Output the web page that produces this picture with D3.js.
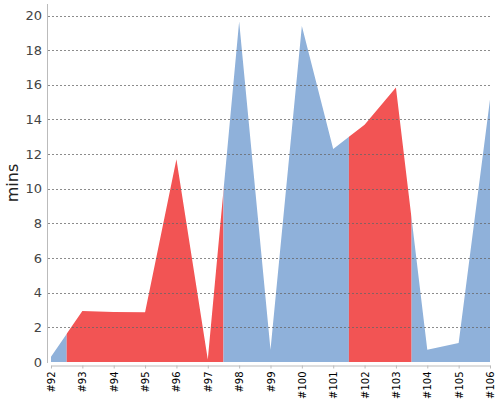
<!DOCTYPE html>
<html>
<head>
<meta charset="utf-8">
<script src="https://cdn.jsdelivr.net/npm/d3@7"></script>
<style>
  body { margin: 0; background: #fff; }
  svg { display: block; }
</style>
</head>
<body>
<svg width="500" height="400"></svg>
<script>
const builds = ["#92", "#93", "#94", "#95", "#96", "#97", "#98", "#99", "#100", "#101", "#102", "#103", "#104", "#105", "#106"];
const mins = [0.3, 2.95, 2.88, 2.87, 11.7, 0.15, 19.65, 0.7, 19.4, 12.3, 13.7, 15.85, 0.7, 1.1, 15.15];
const status = ["ok", "fail", "fail", "fail", "fail", "fail", "ok", "ok", "ok", "ok", "fail", "fail", "ok", "ok", "ok"];
const yTicks = [0, 2, 4, 6, 8, 10, 12, 14, 16, 18, 20];

const colors = { ok: "#8fb1da", fail: "#f25454" };

function draw() {
  const svg = d3.select("svg");
  const left = 51, right = 490, top = 4, zeroY = 362;

  const x = d3.scalePoint().domain(builds).range([left, right]);
  const y = d3.scaleLinear().domain([0, 20]).range([zeroY, 15.5]);
  const step = x.step();

  // group consecutive builds with the same status into runs
  const runs = [];
  status.forEach((s, i) => {
    const last = runs[runs.length - 1];
    if (last && last.status == s) last.end = i;
    else runs.push({status: s, start: i, end: i});
  });

  const defs = svg.append("defs");
  runs.forEach((r, k) => {
    const x0 = Math.max(left, x(builds[r.start]) - step / 2);
    const x1 = Math.min(right, x(builds[r.end]) + step / 2);
    defs.append("clipPath").attr("id", "c" + k)
      .append("rect")
        .attr("x", x0).attr("y", 0)
        .attr("width", x1 - x0).attr("height", zeroY + 1);
  });

  const area = d3.area()
    .x((d, i) => x(builds[i]))
    .y0(zeroY)
    .y1(d => y(d));

  svg.append("g")
    .selectAll("path")
    .data(runs)
    .join("path")
      .attr("clip-path", (d, k) => `url(#c${k})`)
      .attr("fill", d => colors[d.status])
      .attr("d", area(mins));

  // grid on top of the area
  svg.append("g")
    .selectAll("line")
    .data(yTicks.filter(d => d > 0))
    .join("line")
      .attr("x1", 48).attr("x2", right)
      .attr("y1", d => Math.round(y(d)) + 0.5)
      .attr("y2", d => Math.round(y(d)) + 0.5)
      .attr("stroke", "#666")
      .attr("stroke-opacity", 0.75)
      .attr("stroke-dasharray", "2,2");

  // y axis
  svg.append("line")
    .attr("x1", 47.5).attr("x2", 47.5)
    .attr("y1", top).attr("y2", zeroY + 1)
    .attr("stroke", "#bbb");

  svg.append("g")
    .attr("font-family", "DejaVu Sans, sans-serif")
    .attr("font-size", 13)
    .attr("fill", "#444")
    .selectAll("text")
    .data(yTicks)
    .join("text")
      .attr("x", 42)
      .attr("y", d => y(d))
      .attr("dy", "0.36em")
      .attr("text-anchor", "end")
      .text(d => d);

  svg.append("text")
    .attr("transform", "translate(18,183) rotate(-90)")
    .attr("text-anchor", "middle")
    .attr("font-family", "DejaVu Sans, sans-serif")
    .attr("font-size", 16)
    .attr("fill", "#222")
    .text("mins");

  // x axis
  const xAxis = svg.append("g")
    .attr("transform", "translate(0,365.5)")
    .call(d3.axisBottom(x).tickSize(3).tickSizeOuter(0));
  xAxis.select(".domain").attr("stroke", "#bbb");
  xAxis.selectAll(".tick line").attr("stroke", "#bbb");
  xAxis.selectAll("text")
    .attr("font-family", "DejaVu Sans, sans-serif")
    .attr("font-size", 10)
    .attr("fill", "#000")
    .attr("text-anchor", "end")
    .attr("transform", "rotate(-90)")
    .attr("x", -6)
    .attr("y", 0)
    .attr("dy", "0.35em");
}

draw();
</script>
</body>
</html>
